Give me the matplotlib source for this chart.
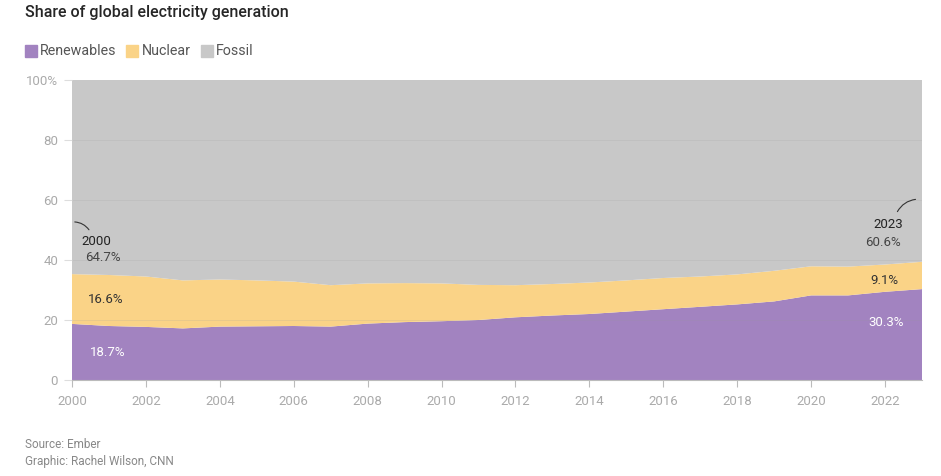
import numpy as np
import matplotlib.pyplot as plt

plt.rcParams['font.family'] = ['Roboto', 'DejaVu Sans']

years = np.arange(2000, 2024)
renewables = [18.7, 18.0, 17.7, 17.2, 17.8, 17.9, 18.0, 17.8, 18.8, 19.3, 19.6, 20.0,
              20.9, 21.5, 22.0, 22.8, 23.6, 24.4, 25.2, 26.2, 28.2, 28.2, 29.4, 30.3]
nuclear = [16.6, 17.0, 16.8, 16.0, 15.7, 15.3, 14.8, 13.8, 13.4, 13.0, 12.6, 11.7,
           10.7, 10.5, 10.5, 10.4, 10.4, 10.1, 10.0, 10.2, 9.7, 9.6, 9.1, 9.1]
fossil = [100 - r - n for r, n in zip(renewables, nuclear)]

names = ["Renewables", "Nuclear", "Fossil"]
colors = ["#a283c0", "#fad387", "#c8c8c8"]

fig = plt.figure(figsize=(9.41, 4.76), dpi=100)
ax = fig.add_axes([72 / 941, 1 - 380 / 476, 850 / 941, 300 / 476])

ax.stackplot(years, renewables, nuclear, fossil, colors=colors, linewidth=0)

ax.set_xlim(2000, 2023)
ax.set_ylim(0, 100)
ax.set_xticks(np.arange(2000, 2023, 2))
ax.set_yticks([0, 20, 40, 60, 80, 100])
ax.set_yticklabels(["0", "20", "40", "60", "80", "100%"])
for y in [20, 40, 60, 80]:
    ax.axhline(y, color="#999999", lw=0.6, alpha=0.2, zorder=3)

for s in ["top", "right", "left"]:
    ax.spines[s].set_visible(False)
ax.spines["bottom"].set_color("#bbbbbb")
ax.tick_params(axis="x", colors="#bbbbbb", labelcolor="#aaaaaa", length=5, width=0.8,
               labelsize=9.5, pad=6)
ax.tick_params(axis="y", colors="#dddddd", labelcolor="#aaaaaa", length=6, width=0.8,
               labelsize=9.5, pad=4)

# labels
ax.text(2000.65, 46.3, "2000", fontsize=9.5, color="#222222", ha="center", va="center")
ax.text(2000.84, 40.7, "64.7%", fontsize=9.5, color="#444444", ha="center", va="center")
ax.text(2000.92, 26.7, "16.6%", fontsize=9.5, color="#333333", ha="center", va="center")
ax.text(2000.97, 9.0, "18.7%", fontsize=9.5, color="white", ha="center", va="center")
ax.text(2022.08, 51.7, "2023", fontsize=9.5, color="#222222", ha="center", va="center")
ax.text(2021.95, 45.7, "60.6%", fontsize=9.5, color="#444444", ha="center", va="center")
ax.text(2021.98, 33.3, "9.1%", fontsize=9.5, color="#333333", ha="center", va="center")
ax.text(2022.03, 19.0, "30.3%", fontsize=9.5, color="white", ha="center", va="center")

ax.annotate("", xy=(2000.5, 49.3), xytext=(2000.0, 52.7),
            arrowprops=dict(arrowstyle="-", color="#333333", lw=0.8,
                            connectionstyle="arc3,rad=-0.3"), annotation_clip=False)
ax.annotate("", xy=(2022.3, 55.3), xytext=(2022.9, 60.3),
            arrowprops=dict(arrowstyle="-", color="#333333", lw=0.8,
                            connectionstyle="arc3,rad=0.3"), annotation_clip=False)

fig.text(25 / 941, 1 - 12 / 476, "Share of global electricity generation", fontsize=11.5,
         fontweight="medium", color="#262626", va="center")

# legend
lx = 25
for name, c in zip(names, colors):
    fig.patches.append(plt.Rectangle((lx / 941, 1 - 57 / 476), 12 / 941, 12 / 476,
                                     color=c, transform=fig.transFigure))
    t = fig.text((lx + 15) / 941, 1 - 51 / 476, name, fontsize=10.3, color="#555555",
                 va="center")
    fig.canvas.draw()
    bb = t.get_window_extent()
    lx = bb.x1 + 10

fig.text(25 / 941, 1 - 444 / 476, "Source: Ember", fontsize=8.5, color="#888888", va="center")
fig.text(25 / 941, 1 - 461 / 476, "Graphic: Rachel Wilson, CNN", fontsize=8.5, color="#888888",
         va="center")

fig.savefig("out.png", dpi=100)
